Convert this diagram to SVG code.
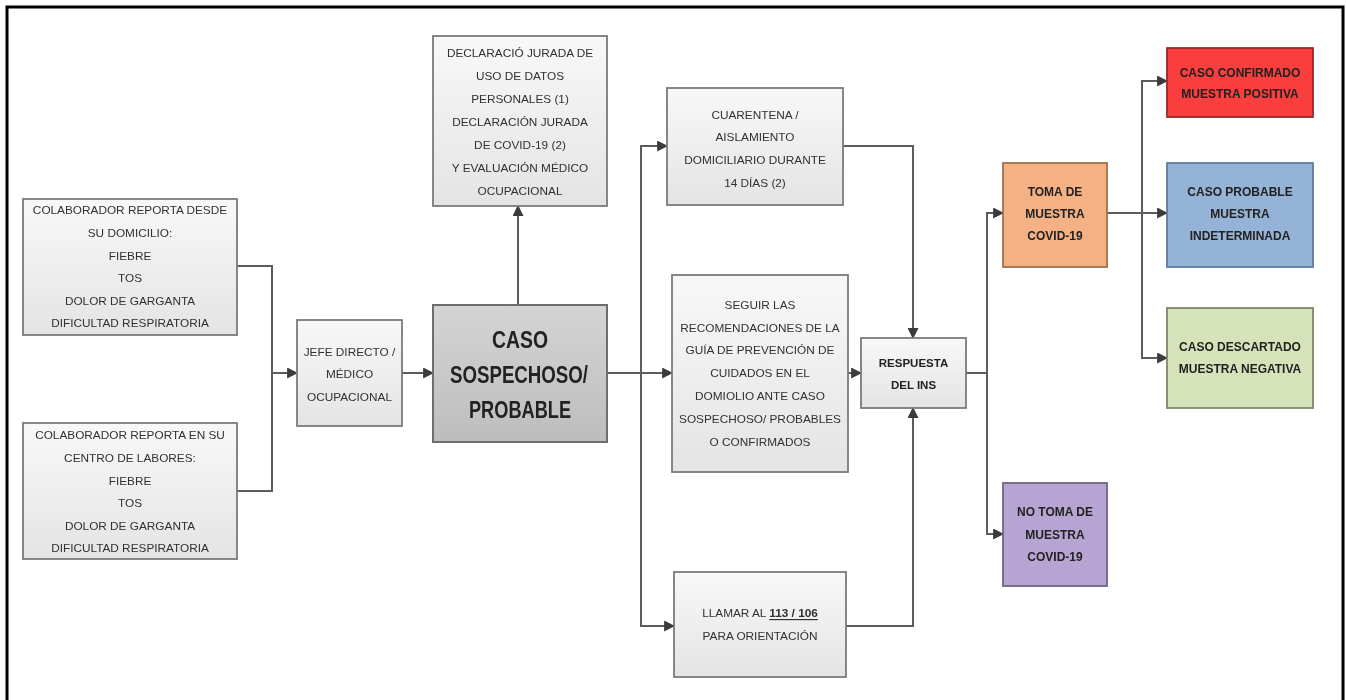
<svg xmlns="http://www.w3.org/2000/svg" width="1346" height="700" viewBox="0 0 1346 700">
  <defs>
    <linearGradient id="gLight" x1="0" y1="0" x2="0" y2="1">
      <stop offset="0" stop-color="#f8f8f8"/>
      <stop offset="1" stop-color="#e4e4e4"/>
    </linearGradient>
    <linearGradient id="gDark" x1="0" y1="0" x2="0" y2="1">
      <stop offset="0" stop-color="#d4d4d4"/>
      <stop offset="1" stop-color="#bdbdbd"/>
    </linearGradient>
    <marker id="arrow" viewBox="0 0 10 10" refX="9" refY="5" markerWidth="5.5" markerHeight="5.5" orient="auto" markerUnits="strokeWidth">
      <path d="M0,0 L10,5 L0,10 Z" fill="#3a3a3a"/>
    </marker>
    <filter id="soft" x="-5%" y="-5%" width="110%" height="110%">
      <feGaussianBlur stdDeviation="0.4"/>
    </filter>
  </defs>
  <style>
    .box { fill: url(#gLight); stroke: #7a7a7a; stroke-width: 1.8; }
    .main { fill: url(#gDark); stroke: #6e6e6e; stroke-width: 2; }
    .t { font-family: "Liberation Sans", Arial, sans-serif; font-size: 11.8px; fill: #303030; text-anchor: middle; dominant-baseline: central; }
    .tb { font-family: "Liberation Sans", Arial, sans-serif; font-size: 12px; font-weight: bold; fill: #222222; text-anchor: middle; dominant-baseline: central; }
    .big { font-family: "Liberation Sans", Arial, sans-serif; font-size: 24px; font-weight: bold; fill: #222222; text-anchor: middle; dominant-baseline: central; }
    .conn { fill: none; stroke: #5c5c5c; stroke-width: 2; }
    .arr { marker-end: url(#arrow); }
  </style>

  <rect width="1346" height="700" fill="#ffffff"/>
  <!-- outer frame -->
  <path d="M7,712 V7 H1343 V712" fill="none" stroke="#000" stroke-width="3"/>

  <g id="connectors" filter="url(#soft)">
    <!-- reports to supervisor -->
    <path class="conn" d="M237,266 H272 V491 H237"/>
    <path class="conn arr" d="M272,373 H297"/>
    <path class="conn arr" d="M402,373 H433"/>
    <!-- suspected case outputs -->
    <path class="conn arr" d="M518,305 V206"/>
    <path class="conn arr" d="M607,373 H672"/>
    <path class="conn arr" d="M641,373 V146 H667"/>
    <path class="conn arr" d="M641,373 V626 H674"/>
    <!-- into INS response -->
    <path class="conn arr" d="M843,146 H913 V338"/>
    <path class="conn arr" d="M848,373 H861"/>
    <path class="conn arr" d="M846,626 H913 V408"/>
    <!-- INS response outputs -->
    <path class="conn" d="M966,373 H987"/>
    <path class="conn arr" d="M987,373 V213 H1003"/>
    <path class="conn arr" d="M987,373 V534 H1003"/>
    <!-- sample results -->
    <path class="conn arr" d="M1107,213 H1167"/>
    <path class="conn arr" d="M1142,213 V81 H1167"/>
    <path class="conn arr" d="M1142,213 V358 H1167"/>
  </g>

  <g id="n-domicilio" filter="url(#soft)">
    <rect class="box" x="23" y="199" width="214" height="136"/>
    <text class="t" x="130" y="210">COLABORADOR REPORTA DESDE</text>
    <text class="t" x="130" y="233">SU DOMICILIO:</text>
    <text class="t" x="130" y="256">FIEBRE</text>
    <text class="t" x="130" y="278">TOS</text>
    <text class="t" x="130" y="301">DOLOR DE GARGANTA</text>
    <text class="t" x="130" y="323">DIFICULTAD RESPIRATORIA</text>
  </g>

  <g id="n-centro" filter="url(#soft)">
    <rect class="box" x="23" y="423" width="214" height="136"/>
    <text class="t" x="130" y="435">COLABORADOR REPORTA EN SU</text>
    <text class="t" x="130" y="458">CENTRO DE LABORES:</text>
    <text class="t" x="130" y="481">FIEBRE</text>
    <text class="t" x="130" y="503">TOS</text>
    <text class="t" x="130" y="526">DOLOR DE GARGANTA</text>
    <text class="t" x="130" y="548">DIFICULTAD RESPIRATORIA</text>
  </g>

  <g id="n-jefe" filter="url(#soft)">
    <rect class="box" x="297" y="320" width="105" height="106"/>
    <text class="t" x="349.5" y="352">JEFE DIRECTO /</text>
    <text class="t" x="349.5" y="374">MÉDICO</text>
    <text class="t" x="349.5" y="397">OCUPACIONAL</text>
  </g>

  <g id="n-caso" filter="url(#soft)">
    <rect class="main" x="433" y="305" width="174" height="137"/>
    <text class="big" x="520" y="339" textLength="56" lengthAdjust="spacingAndGlyphs">CASO</text>
    <text class="big" x="519" y="374" textLength="138" lengthAdjust="spacingAndGlyphs">SOSPECHOSO/</text>
    <text class="big" x="520" y="409" textLength="102" lengthAdjust="spacingAndGlyphs">PROBABLE</text>
  </g>

  <g id="n-declaracion" filter="url(#soft)">
    <rect class="box" x="433" y="36" width="174" height="170"/>
    <text class="t" x="520" y="53">DECLARACIÓ JURADA DE</text>
    <text class="t" x="520" y="76">USO DE DATOS</text>
    <text class="t" x="520" y="99">PERSONALES (1)</text>
    <text class="t" x="520" y="122">DECLARACIÓN JURADA</text>
    <text class="t" x="520" y="145">DE COVID-19 (2)</text>
    <text class="t" x="520" y="168">Y EVALUACIÓN MÉDICO</text>
    <text class="t" x="520" y="191">OCUPACIONAL</text>
  </g>

  <g id="n-cuarentena" filter="url(#soft)">
    <rect class="box" x="667" y="88" width="176" height="117"/>
    <text class="t" x="755" y="115">CUARENTENA /</text>
    <text class="t" x="755" y="137">AISLAMIENTO</text>
    <text class="t" x="755" y="160">DOMICILIARIO DURANTE</text>
    <text class="t" x="755" y="183">14 DÍAS (2)</text>
  </g>

  <g id="n-seguir" filter="url(#soft)">
    <rect class="box" x="672" y="275" width="176" height="197"/>
    <text class="t" x="760" y="305">SEGUIR LAS</text>
    <text class="t" x="760" y="328">RECOMENDACIONES DE LA</text>
    <text class="t" x="760" y="350">GUÍA DE PREVENCIÓN DE</text>
    <text class="t" x="760" y="373">CUIDADOS EN EL</text>
    <text class="t" x="760" y="396">DOMIOLIO ANTE CASO</text>
    <text class="t" x="760" y="419">SOSPECHOSO/ PROBABLES</text>
    <text class="t" x="760" y="442">O CONFIRMADOS</text>
  </g>

  <g id="n-llamar" filter="url(#soft)">
    <rect class="box" x="674" y="572" width="172" height="105"/>
    <text class="t" x="760" y="613">LLAMAR AL <tspan font-weight="bold" text-decoration="underline">113 / 106</tspan></text>
    <text class="t" x="760" y="636">PARA ORIENTACIÓN</text>
  </g>

  <g id="n-respuesta" filter="url(#soft)">
    <rect class="box" x="861" y="338" width="105" height="70"/>
    <text class="tb" x="913.5" y="363" style="font-size:11.5px">RESPUESTA</text>
    <text class="tb" x="913.5" y="385" style="font-size:11.5px">DEL INS</text>
  </g>

  <g id="n-toma" filter="url(#soft)">
    <rect x="1003" y="163" width="104" height="104" fill="#f4b183" stroke="#a0704a" stroke-width="1.8"/>
    <text class="tb" x="1055" y="192">TOMA DE</text>
    <text class="tb" x="1055" y="214">MUESTRA</text>
    <text class="tb" x="1055" y="236">COVID-19</text>
  </g>

  <g id="n-notoma" filter="url(#soft)">
    <rect x="1003" y="483" width="104" height="103" fill="#b6a5d2" stroke="#6f6483" stroke-width="1.8"/>
    <text class="tb" x="1055" y="512">NO TOMA DE</text>
    <text class="tb" x="1055" y="535">MUESTRA</text>
    <text class="tb" x="1055" y="557">COVID-19</text>
  </g>

  <g id="n-confirmado" filter="url(#soft)">
    <rect x="1167" y="48" width="146" height="69" fill="#fa3c3c" stroke="#9a2a2a" stroke-width="1.8"/>
    <text class="tb" x="1240" y="73">CASO CONFIRMADO</text>
    <text class="tb" x="1240" y="94">MUESTRA POSITIVA</text>
  </g>

  <g id="n-probable" filter="url(#soft)">
    <rect x="1167" y="163" width="146" height="104" fill="#95b3d7" stroke="#5f7a9c" stroke-width="1.8"/>
    <text class="tb" x="1240" y="192">CASO PROBABLE</text>
    <text class="tb" x="1240" y="214">MUESTRA</text>
    <text class="tb" x="1240" y="236">INDETERMINADA</text>
  </g>

  <g id="n-descartado" filter="url(#soft)">
    <rect x="1167" y="308" width="146" height="100" fill="#d6e2b9" stroke="#7f876b" stroke-width="1.8"/>
    <text class="tb" x="1240" y="347">CASO DESCARTADO</text>
    <text class="tb" x="1240" y="369">MUESTRA NEGATIVA</text>
  </g>
</svg>
